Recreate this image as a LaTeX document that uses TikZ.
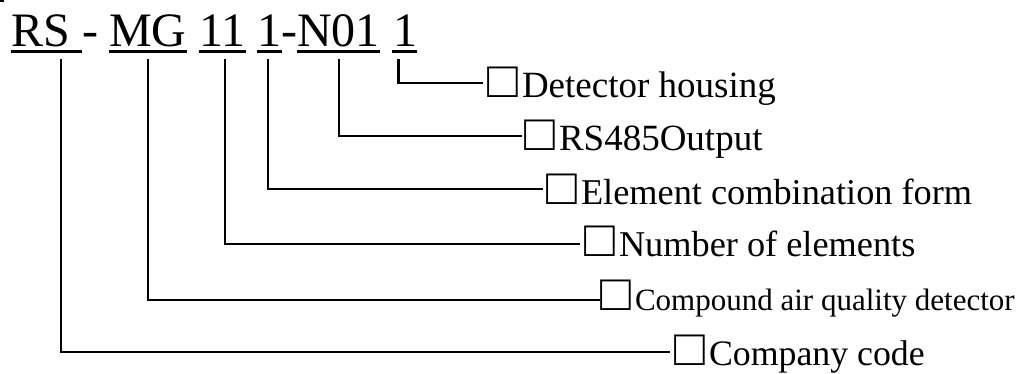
\documentclass[tikz,border=0pt]{standalone}
\usepackage{fontspec}
\setmainfont{Liberation Serif}
\newcommand\sqbox{{\fontsize{51}{60}\selectfont □}\hspace{4pt}}
\begin{document}
\begin{tikzpicture}[x=1pt,y=-1pt,
  code/.style={anchor=base west,inner sep=0pt,font=\fontsize{48}{58}\selectfont},
  lab/.style={anchor=base west,inner sep=0pt,font=\fontsize{37}{44}\selectfont},
  smalllab/.style={anchor=base west,inner sep=0pt,font=\fontsize{31}{38}\selectfont},
  ul/.style={line width=3pt},
  conn/.style={line width=2.3pt}]
\useasboundingbox (0,0) rectangle (1034,374);
% small fragment at top-left corner
\draw[line width=2pt] (0,1.5) -- (4,1.5);
% code segments
\node[code] (rs)  at (11,47)  {RS};
\node[code] (d1)  at (82,47)  {-};
\node[code] (mg)  at (109,47) {MG};
\node[code] (n11) at (199,47) {11};
\node[code] (n1)  at (257,47) {1};
\node[code] (d2)  at (281.5,47) {-};
\node[code] (n01) at (297,47) {N01};
\node[code] (nl)  at (393,47) {1};
% underlines
\draw[ul] (11,51.5) -- (82,51.5);
\draw[ul] (109,51.5) -- (187,51.5);
\draw[ul] (199,51.5) -- (246,51.5);
\draw[ul] (257,51.5) -- (282,51.5);
\draw[ul] (297,51.5) -- (380,51.5);
\draw[ul] (392,51.5) -- (417,51.5);
% labels
\node[lab] (l1) at (487,98)  {\sqbox Detector housing};
\node[lab] (l2) at (524,151) {\sqbox RS485Output};
\node[lab,font=\fontsize{36.3}{44}\selectfont] (l3) at (546,205) {\sqbox Element combination form};
\node[lab,font=\fontsize{36.3}{44}\selectfont] (l4) at (584,257) {\sqbox Number of elements};
\node[smalllab] (l5) at (600,311) {\sqbox Compound air quality detector};
\node[lab,font=\fontsize{35.8}{44}\selectfont] (l6) at (674,365) {\sqbox Company code};
% connector start points
\coordinate (s1) at (398.5,59);
\coordinate (s2) at (339,59);
\coordinate (s3) at (268,59);
\coordinate (s4) at (225,59);
\coordinate (s5) at (148,59);
\coordinate (s6) at (61,59);
% connectors
\draw[conn] (s1) |- ([xshift=-4pt,yshift=15pt]l1.base west);
\draw[conn] (s2) |- ([xshift=-2pt,yshift=15pt]l2.base west);
\draw[conn] (s3) |- ([xshift=-3pt,yshift=16pt]l3.base west);
\draw[conn] (s4) |- ([xshift=-4pt,yshift=13pt]l4.base west);
\draw[conn] (s5) |- ([xshift=0pt,yshift=11pt]l5.base west);
\draw[conn] (s6) |- ([xshift=-4pt,yshift=13pt]l6.base west);
\end{tikzpicture}
\end{document}
